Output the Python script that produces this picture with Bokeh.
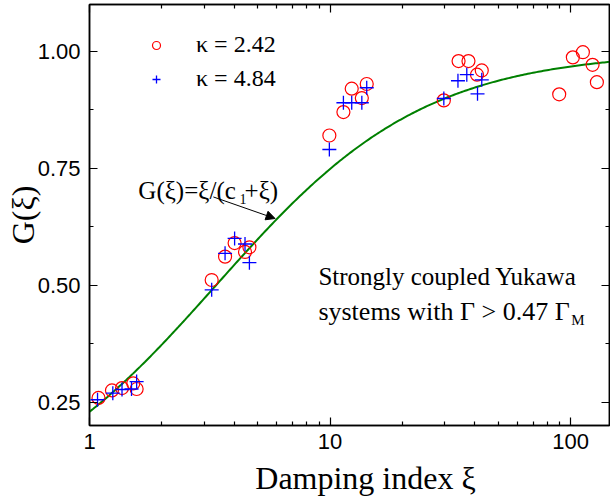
import numpy as np
from bokeh.plotting import figure
from bokeh.models import (LogAxis, LinearAxis, FixedTicker, PrintfTickFormatter,
                          Legend, LegendItem, Label, Arrow, NormalHead, Range1d)
from bokeh.embed import file_html
from bokeh.resources import INLINE

# ---- data ----
xi_k242 = [1.09, 1.24, 1.365, 1.52, 1.57, 3.22, 3.66, 4.01, 4.43, 4.62,
           9.93, 11.36, 12.3, 13.55, 14.2, 29.7, 34.2, 37.6, 40.8, 42.7,
           89.6, 102.1, 112.4, 123.3, 128.5]
G_k242 = [0.259, 0.275, 0.280, 0.290, 0.278, 0.511, 0.561, 0.590, 0.571, 0.581,
          0.820, 0.870, 0.920, 0.900, 0.930, 0.895, 0.979, 0.979, 0.950, 0.959,
          0.908, 0.987, 0.998, 0.971, 0.934]
xi_k484 = [1.08, 1.25, 1.365, 1.495, 1.57, 3.22, 3.66, 4.01, 4.43, 4.62,
           9.93, 11.36, 12.3, 13.55, 14.2, 29.7, 34.0, 37.0, 41.0, 42.7]
G_k484 = [0.255, 0.269, 0.277, 0.278, 0.294, 0.490, 0.568, 0.600, 0.588, 0.548,
          0.790, 0.890, 0.890, 0.890, 0.922, 0.899, 0.937, 0.950, 0.909, 0.939]
c1 = 3.36  # fit constant of G(xi) = xi/(c1+xi)
series_labels = ["κ = 2.42", "κ = 4.84"]
x_major = [1, 10, 100]
x_minor = [m * 10 ** d for d in (0, 1) for m in range(2, 10)]
y_major = [0.25, 0.50, 0.75, 1.00]
y_minor = [0.375, 0.625, 0.875]

xi_fit = np.logspace(0, np.log10(145), 300)
G_fit = xi_fit / (c1 + xi_fit)

SERIF = "Liberation Serif"
SANS = "Liberation Sans"
NBSP = "\u00a0"

p = figure(width=610, height=498, x_axis_type="log",
           x_range=Range1d(1, 145), y_range=Range1d(0.2, 1.1),
           output_backend="svg", toolbar_location=None,
           min_border_left=89, min_border_right=1, min_border_top=4,
           min_border_bottom=73)
p.background_fill_color = "white"
p.border_fill_color = "white"
p.grid.visible = False
p.outline_line_color = "black"
p.outline_line_width = 1.5

xt = FixedTicker(ticks=x_major, minor_ticks=x_minor)
yt = FixedTicker(ticks=y_major, minor_ticks=y_minor)


def style_axis(ax, ticks=None):
    ax.axis_line_color = "black"
    ax.axis_line_width = 1.5
    ax.major_tick_line_color = "black"
    ax.minor_tick_line_color = "black"
    ax.major_tick_line_width = 1.2
    ax.minor_tick_line_width = 1.2
    ax.major_tick_in = 8
    ax.major_tick_out = 0
    ax.minor_tick_in = 4
    ax.minor_tick_out = 0
    if ticks is None:
        ax.major_label_text_font = SANS
        ax.major_label_text_font_size = "22px"
        ax.major_label_text_color = "black"
    else:
        # mirror axis: ticks only, no labels
        ax.major_label_overrides = {t: "" for t in ticks}
        ax.major_label_text_font_size = "1px"
        ax.major_label_standoff = 0


xa = p.xaxis[0]
xa.ticker = xt
xa.formatter = PrintfTickFormatter(format="%d")
style_axis(xa)
xa.major_label_standoff = 8
xa.axis_label = NBSP * 4 + "Damping index ξ"
xa.axis_label_text_font = SERIF
xa.axis_label_text_font_size = "32px"
xa.axis_label_text_font_style = "normal"
xa.axis_label_text_color = "black"
xa.axis_label_text_line_height = 0.7
xa.axis_label_standoff = 8

ya = p.yaxis[0]
ya.ticker = yt
ya.formatter = PrintfTickFormatter(format="%.2f")
style_axis(ya)
ya.major_label_standoff = 9
ya.axis_label = "G(ξ)"
ya.axis_label_text_font = SERIF
ya.axis_label_text_font_size = "32px"
ya.axis_label_text_font_style = "normal"
ya.axis_label_text_color = "black"
ya.axis_label_standoff = -6

top = LogAxis(ticker=xt)
style_axis(top, x_major)
p.add_layout(top, "above")
right = LinearAxis(ticker=yt)
style_axis(right, y_major)
p.add_layout(right, "right")

p.line(xi_fit, G_fit, line_color="#008000", line_width=2)
r1 = p.scatter(xi_k242, G_k242, marker="circle", size=13, fill_color=None,
               line_color="#ff0000", line_width=1.2)
r2 = p.scatter(xi_k484, G_k484, marker="cross", size=14,
               line_color="#0000ff", line_width=1.3)

legend = Legend(items=[LegendItem(label=series_labels[0], renderers=[r1]),
                       LegendItem(label=series_labels[1], renderers=[r2])],
                location=(57, 333), padding=0, margin=0, spacing=7,
                glyph_width=20, glyph_height=26, label_height=26,
                label_standoff=30, label_text_font=SERIF,
                label_text_font_size="24px", label_text_color="black",
                background_fill_alpha=0, border_line_alpha=0)
p.add_layout(legend)


def lab(x, y, text, size, align="left"):
    p.add_layout(Label(x=x, y=y, text=text, text_font=SERIF,
                       text_font_size=size, text_color="black",
                       text_baseline="alphabetic", text_align=align))


lab(1.596, 0.7029, "G(ξ)=ξ/(c", "25px")
lab(4.205, 0.6837, "1", "14px")
lab(4.41, 0.7029, "+ξ)", "25px")
lab(8.94, 0.5179, "Strongly coupled Yukawa", "25px")
lab(8.94, 0.4433, "systems with  Γ > 0.47 Γ", "26px")
lab(100.5, 0.4256, "M", "15px")

p.add_layout(Arrow(end=NormalHead(size=9, fill_color="black", line_color="black"),
                   x_start=3.272, y_start=0.6886, x_end=5.906, y_end=0.6425,
                   line_color="black", line_width=1))

open("out.html", "w").write(file_html(p, INLINE))
